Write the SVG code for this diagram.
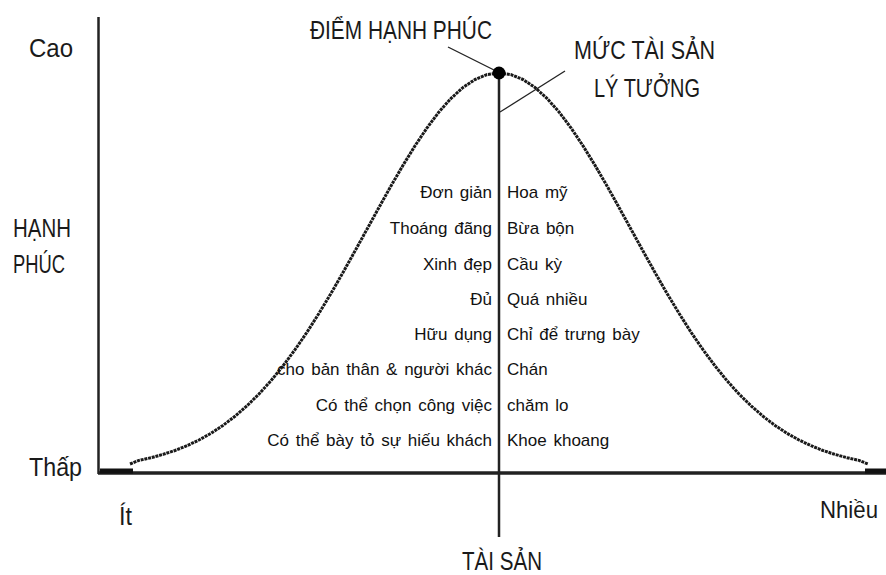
<svg xmlns="http://www.w3.org/2000/svg" width="886" height="575" viewBox="0 0 886 575">
<style>
  .h{font-family:"Liberation Sans",Arial,sans-serif;font-size:26px;fill:#1a1a1a}
  .b{font-family:"Liberation Sans",Arial,sans-serif;font-size:17px;fill:#111;word-spacing:2px}
  .l{text-anchor:end}
  .ax{stroke:#222;fill:none}
  .cv{stroke:#1a1a1a;stroke-width:3;fill:none;stroke-linejoin:round;stroke-dasharray:3 0.8}
  .ptr{stroke:#222;stroke-width:1.3;fill:none}
</style>
<rect width="886" height="575" fill="#fff"/>
<g id="axes">
  <line class="ax" x1="98.5" y1="17" x2="98.5" y2="474" stroke-width="2.5"/>
  <line class="ax" x1="98" y1="473" x2="886" y2="473" stroke-width="3.5"/>
  <line class="ax" x1="499" y1="73" x2="499" y2="537" stroke-width="2.5"/>
</g>
<g id="curve">
  <polyline class="cv" points="130,464 139,460.4 151,457.7 163,454.4 175,450.5 187,445.7 199,440 211,433.3 223,425.4 235,416.3 247,405.8 259,394 271,380.7 283,365.9 295,349.7 307,332.2 319,313.3 331,293.4 343,272.5 355,251 367,229.2 379,207.4 391,185.9 403,165.3 415,145.8 427,127.9 439,111.9 451,98.4 463,87.5 475,79.5 487,74.6 499,73 511,74.6 523,79.5 535,87.5 547,98.4 559,111.9 571,127.9 583,145.8 595,165.3 607,185.9 619,207.4 631,229.2 643,251 655,272.5 667,293.4 679,313.3 691,332.2 703,349.7 715,365.9 727,380.7 739,394 751,405.8 763,416.3 775,425.4 787,433.3 799,440 811,445.7 823,450.5 835,454.4 847,457.7 859,460.4 868,464"/>
  <line x1="100" y1="471" x2="133" y2="471" stroke="#111" stroke-width="5"/>
  <line x1="865" y1="471" x2="886" y2="471" stroke="#111" stroke-width="5"/>
</g>
<g id="peak">
  <circle cx="499" cy="73" r="6.5" fill="#000"/>
</g>
<g id="connectors">
  <line class="ptr" x1="448" y1="47" x2="494" y2="70"/>
  <line class="ptr" x1="500" y1="112" x2="565" y2="71"/>
</g>
<g id="axis-labels">
  <text class="h" x="29" y="57" textLength="44" lengthAdjust="spacingAndGlyphs">Cao</text>
  <text class="h" x="13" y="237" textLength="58" lengthAdjust="spacingAndGlyphs">HẠNH</text>
  <text class="h" x="13" y="273" textLength="52" lengthAdjust="spacingAndGlyphs">PHÚC</text>
  <text class="h" x="29" y="476" textLength="53" lengthAdjust="spacingAndGlyphs">Thấp</text>
  <text class="h" x="119" y="525" textLength="13" lengthAdjust="spacingAndGlyphs">Ít</text>
  <text class="h" x="820" y="518" style="font-size:24px" textLength="58" lengthAdjust="spacingAndGlyphs">Nhiều</text>
  <text class="h" x="462" y="570" textLength="80" lengthAdjust="spacingAndGlyphs">TÀI SẢN</text>
</g>
<g id="point-label">
  <text class="h" x="310" y="39" textLength="182" lengthAdjust="spacingAndGlyphs">ĐIỂM HẠNH PHÚC</text>
</g>
<g id="level-label">
  <text class="h" x="574" y="59" textLength="141" lengthAdjust="spacingAndGlyphs">MỨC TÀI SẢN</text>
  <text class="h" x="594" y="97" textLength="106" lengthAdjust="spacingAndGlyphs">LÝ TƯỞNG</text>
</g>
<g id="left-list">
  <text class="b l" x="492" y="198">Đơn giản</text>
  <text class="b l" x="492" y="234">Thoáng đãng</text>
  <text class="b l" x="492" y="270">Xinh đẹp</text>
  <text class="b l" x="492" y="305">Đủ</text>
  <text class="b l" x="492" y="340">Hữu dụng</text>
  <text class="b l" x="492" y="375">cho bản thân &amp; người khác</text>
  <text class="b l" x="492" y="411">Có thể chọn công việc</text>
  <text class="b l" x="492" y="446">Có thể bày tỏ sự hiếu khách</text>
</g>
<g id="right-list">
  <text class="b" x="507" y="198">Hoa mỹ</text>
  <text class="b" x="507" y="234">Bừa bộn</text>
  <text class="b" x="507" y="270">Cầu kỳ</text>
  <text class="b" x="507" y="305">Quá nhiều</text>
  <text class="b" x="507" y="340">Chỉ để trưng bày</text>
  <text class="b" x="507" y="375">Chán</text>
  <text class="b" x="507" y="411">chăm lo</text>
  <text class="b" x="507" y="446">Khoe khoang</text>
</g>
</svg>
